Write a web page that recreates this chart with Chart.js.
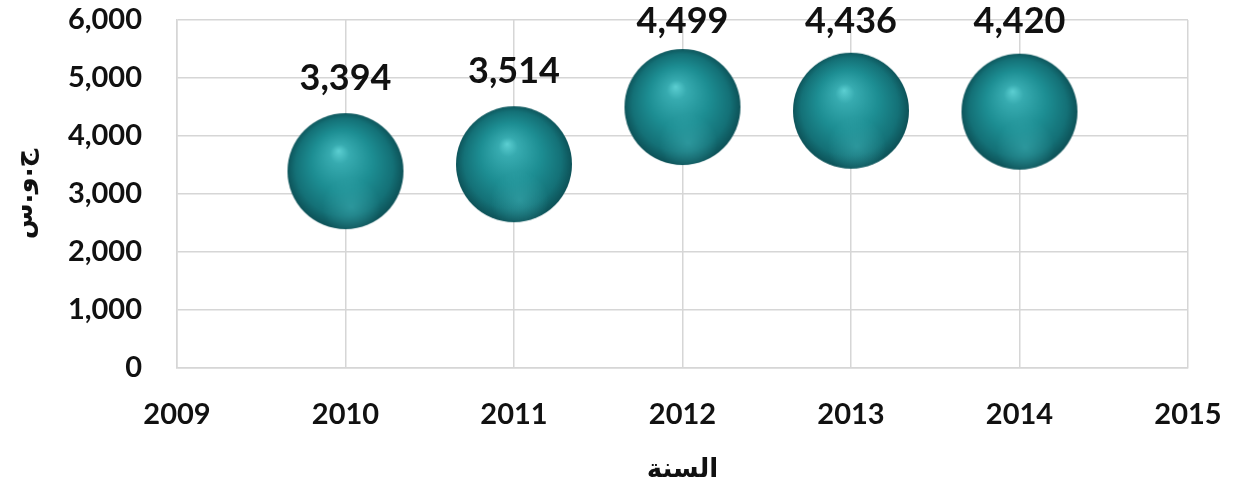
<!DOCTYPE html>
<html>
<head>
<meta charset="utf-8">
<script src="https://cdn.jsdelivr.net/npm/chart.js@4"></script>
<style>
  html, body { margin: 0; padding: 0; background: #fff; }
  #wrap { width: 1235px; height: 494px; position: relative; }
</style>
</head>
<body>
<div id="wrap"><canvas id="sphere-chart"></canvas></div>
<script>
// data
const years = [2010, 2011, 2012, 2013, 2014];
const values = [3394, 3514, 4499, 4436, 4420];
const xTickRange = [2009, 2015];
const yTickRange = [0, 6000];

const BUBBLE_R = 58;

// sphere picture used as point style
function makeSphere(r) {
  const c = document.createElement("canvas");
  c.width = r * 2 + 2;
  c.height = r * 2 + 2;
  const g = c.getContext("2d");
  const cx = c.width / 2, cy = c.height / 2;

  g.beginPath();
  g.arc(cx, cy, r, 0, Math.PI * 2);
  g.closePath();
  const base = g.createRadialGradient(cx - 0.12 * r, cy - 0.35 * r, 0, cx, cy, r * 1.05);
  base.addColorStop(0, "#5ccfd2");
  base.addColorStop(0.16, "#37abb0");
  base.addColorStop(0.5, "#1d8e93");
  base.addColorStop(0.8, "#147177");
  base.addColorStop(1, "#0b4a50");
  g.fillStyle = base;
  g.fill();

  // soft reflection near the bottom
  g.save();
  g.clip();
  const rim = g.createRadialGradient(cx + 0.1 * r, cy + 0.62 * r, 0, cx + 0.1 * r, cy + 0.62 * r, r * 0.5);
  rim.addColorStop(0, "rgba(70, 185, 190, 0.45)");
  rim.addColorStop(1, "rgba(70, 185, 190, 0)");
  g.fillStyle = rim;
  g.fillRect(0, 0, c.width, c.height);
  g.restore();
  return c;
}

const sphere = makeSphere(BUBBLE_R);

// value labels over the bubbles
const valueLabels = {
  id: "valueLabels",
  afterDatasetsDraw(chart) {
    const ctx = chart.ctx;
    const meta = chart.getDatasetMeta(0);
    ctx.save();
    ctx.font = "bold 36px Lato";
    ctx.fillStyle = "#111";
    ctx.textAlign = "center";
    ctx.textBaseline = "middle";
    meta.data.forEach((el, i) => {
      const y = Math.max(el.y - BUBBLE_R - 35, 21);
      ctx.fillText(values[i].toLocaleString("en-US"), el.x, y);
    });
    ctx.restore();
  },
};

const gridColor = "#d6d6d6";

new Chart(document.getElementById("sphere-chart"), {
  type: "bubble",
  data: {
    datasets: [
      {
        data: years.map((y, i) => ({ x: y, y: values[i], r: BUBBLE_R })),
        pointStyle: sphere,
        backgroundColor: "#1d8e93",
        borderWidth: 0,
        clip: false,
      },
    ],
  },
  options: {
    responsive: true,
    maintainAspectRatio: false,
    animation: false,
    layout: { autoPadding: false, padding: { top: 20, right: 47, bottom: 0, left: 0 } },
    plugins: {
      legend: { display: false },
      tooltip: { enabled: false },
    },
    scales: {
      x: {
        type: "linear",
        min: xTickRange[0],
        max: xTickRange[1],
        afterFit: (s) => { s.height = 126; },
        grid: { color: gridColor, lineWidth: 1.5, tickLength: 27, tickColor: "rgba(0,0,0,0)" },
        border: { color: gridColor, width: 1.5 },
        ticks: {
          stepSize: 1,
          padding: 2,
          color: "#111",
          font: { family: "Lato", size: 29, weight: "bold" },
          callback: (v) => String(v),
        },
        title: {
          display: true,
          text: "السنة",
          color: "#111",
          padding: { top: 0, bottom: 8 },
          font: { family: "DejaVu Sans", size: 26, weight: "bold" },
        },
      },
      y: {
        min: yTickRange[0],
        max: yTickRange[1],
        afterFit: (s) => { s.width = 177; },
        grid: { color: gridColor, lineWidth: 1.5, tickLength: 33, tickColor: "rgba(0,0,0,0)" },
        border: { color: gridColor, width: 1.5 },
        ticks: {
          stepSize: 1000,
          padding: 2,
          color: "#111",
          font: { family: "Lato", size: 29, weight: "bold" },
          callback: (v) => v.toLocaleString("en-US"),
        },
        title: {
          display: true,
          text: "ج.و.س",
          color: "#111",
          padding: { top: 10, bottom: 0 },
          font: { family: "DejaVu Sans", size: 26, weight: "bold" },
        },
      },
    },
  },
  plugins: [valueLabels],
});
</script>
</body>
</html>
